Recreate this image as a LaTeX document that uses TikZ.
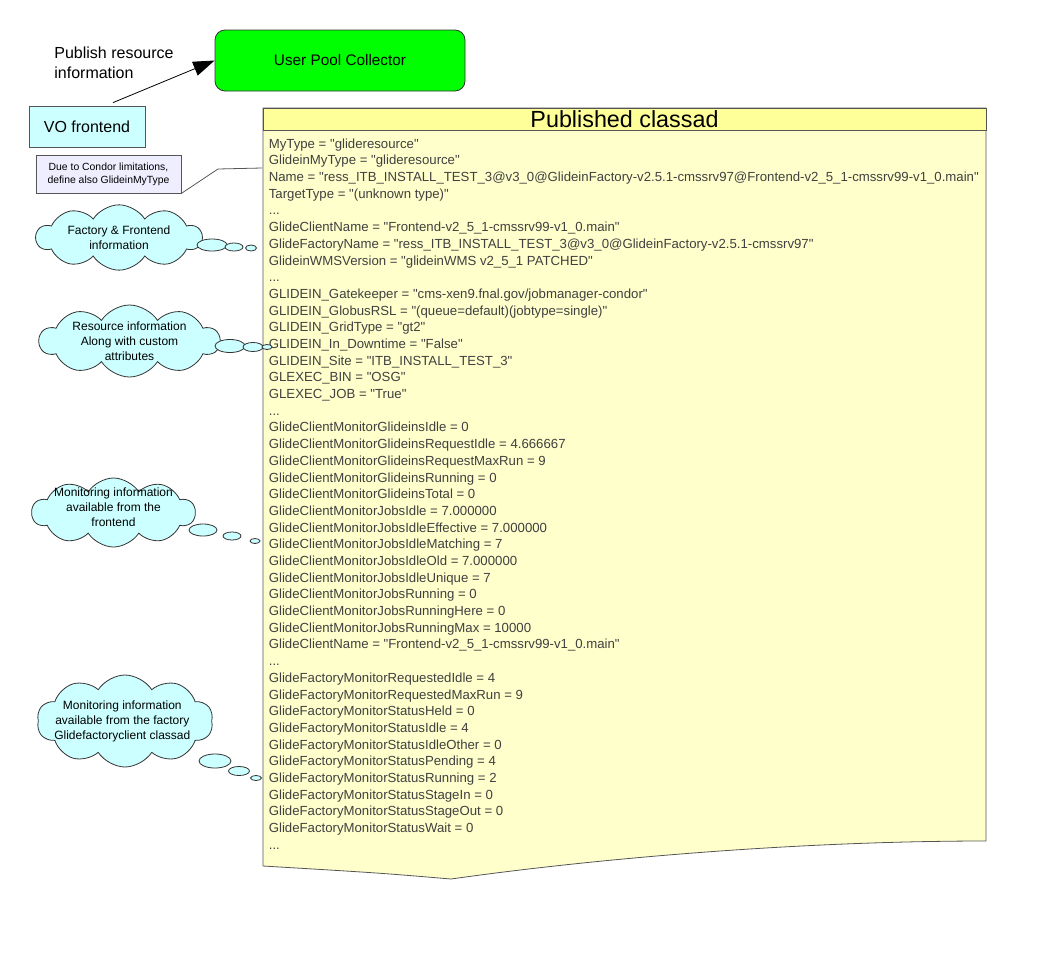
\documentclass[tikz,border=0pt]{standalone}
\usepackage{fontspec}
\setmainfont{Liberation Sans}[Ligatures=TeXOff]
\usetikzlibrary{shapes.symbols}
\usetikzlibrary{arrows.meta}
\definecolor{paleyellow}{HTML}{FFFFCC}
\definecolor{headyellow}{HTML}{FFFF99}
\definecolor{palecyan}{HTML}{CCFFFF}
\definecolor{palelilac}{HTML}{EEEEFF}
\definecolor{linegray}{HTML}{555555}
\definecolor{textgray}{HTML}{404040}
\newcommand{\skipped}{...}
\tikzset{
    thought/.style={cloud, cloud puffs=10, cloud puff arc=115, draw=black!80, fill=palecyan, inner sep=0pt},
    thought text/.style={align=center, inner sep=0pt, font=\fontsize{9}{11.25}\selectfont},
    bubble/.style={draw=black!80, fill=palecyan},
    box/.style={draw=linegray, fill=palecyan, font=\fontsize{12}{14}\selectfont},
    attr/.style={anchor=west, text=textgray, font=\fontsize{9.9}{12}\selectfont, text height=1.6ex, text depth=.4ex},
}

\begin{document}
\begin{tikzpicture}[x=0.75pt,y=-0.75pt,line width=0.6pt]
\useasboundingbox (0,0) rectangle (1056,960);
% collector and frontend
\node[draw=black!80, fill=green, rounded corners=7.5pt, minimum width=187.5pt, minimum height=45.75pt, font=\fontsize{11.5}{14}\selectfont] (upc) at (340,60.5) {User Pool Collector};
\node[box, minimum width=87pt, minimum height=30.75pt] (vo) at (87,126.5) {VO frontend};
\node[anchor=west, align=left, inner sep=0pt, font=\fontsize{12}{15}\selectfont] (pub) at (54,63) {Publish resource\\information};
\draw[-{Triangle[length=16pt,width=11pt]}] ([xshift=19.5pt,yshift=2.25pt]vo.north) -- (upc.west);
% note
\node[draw=linegray, fill=palelilac, minimum width=108.75pt, minimum height=28.5pt, align=center, font=\fontsize{7.8}{10}\selectfont] (note) at (108.5,174) {Due to Condor limitations,\\define also GlideinMyType};
\coordinate (notebend) at (218,169);
\coordinate (noteend) at (262,168);
% classad
\filldraw[fill=paleyellow, draw=linegray] (263,108) -- (986,108) -- (986,841) .. controls (800,841) and (600,858) .. (451,879) .. controls (380,873) .. (263,866) -- cycle;
\filldraw[fill=headyellow, draw=linegray] (263,108) rectangle (986,130);
\node[font=\fontsize{17.5}{20}\selectfont, inner sep=0pt] (title) at (624.5,119) {Published classad};
\draw[linegray] (note.south east) -- (notebend) -- (noteend);
\foreach \txt [count=\i] in {
    {MyType = "glideresource"},
    {GlideinMyType = "glideresource"},
    {Name = "ress\_ITB\_INSTALL\_TEST\_3@v3\_0@GlideinFactory-v2.5.1-cmssrv97@Frontend-v2\_5\_1-cmssrv99-v1\_0.main"},
    {TargetType = "(unknown type)"},
    {\skipped},
    {GlideClientName = "Frontend-v2\_5\_1-cmssrv99-v1\_0.main"},
    {GlideFactoryName = "ress\_ITB\_INSTALL\_TEST\_3@v3\_0@GlideinFactory-v2.5.1-cmssrv97"},
    {GlideinWMSVersion = "glideinWMS v2\_5\_1 PATCHED"},
    {\skipped},
    {GLIDEIN\_Gatekeeper = "cms-xen9.fnal.gov/jobmanager-condor"},
    {GLIDEIN\_GlobusRSL = "(queue=default)(jobtype=single)"},
    {GLIDEIN\_GridType = "gt2"},
    {GLIDEIN\_In\_Downtime = "False"},
    {GLIDEIN\_Site = "ITB\_INSTALL\_TEST\_3"},
    {GLEXEC\_BIN = "OSG"},
    {GLEXEC\_JOB = "True"},
    {\skipped},
    {GlideClientMonitorGlideinsIdle = 0},
    {GlideClientMonitorGlideinsRequestIdle = 4.666667},
    {GlideClientMonitorGlideinsRequestMaxRun = 9},
    {GlideClientMonitorGlideinsRunning = 0},
    {GlideClientMonitorGlideinsTotal = 0},
    {GlideClientMonitorJobsIdle = 7.000000},
    {GlideClientMonitorJobsIdleEffective = 7.000000},
    {GlideClientMonitorJobsIdleMatching = 7},
    {GlideClientMonitorJobsIdleOld = 7.000000},
    {GlideClientMonitorJobsIdleUnique = 7},
    {GlideClientMonitorJobsRunning = 0},
    {GlideClientMonitorJobsRunningHere = 0},
    {GlideClientMonitorJobsRunningMax = 10000},
    {GlideClientName = "Frontend-v2\_5\_1-cmssrv99-v1\_0.main"},
    {\skipped},
    {GlideFactoryMonitorRequestedIdle = 4},
    {GlideFactoryMonitorRequestedMaxRun = 9},
    {GlideFactoryMonitorStatusHeld = 0},
    {GlideFactoryMonitorStatusIdle = 4},
    {GlideFactoryMonitorStatusIdleOther = 0},
    {GlideFactoryMonitorStatusPending = 4},
    {GlideFactoryMonitorStatusRunning = 2},
    {GlideFactoryMonitorStatusStageIn = 0},
    {GlideFactoryMonitorStatusStageOut = 0},
    {GlideFactoryMonitorStatusWait = 0},
    {\skipped}}
    \node[attr] (line\i) at (264,{144+16.69*(\i-1)}) {\txt};
% thought clouds
\node[thought, minimum width=124pt, minimum height=49pt] (factcloud) at (119,237.5) {};
\node[thought text] (facttext) at (factcloud) {Factory \& Frontend\\information};
\node[thought, minimum width=135pt, minimum height=54pt] (rescloud) at (129.5,341) {};
\node[thought text] (restext) at (rescloud) {Resource information\\Along with custom\\attributes};
\node[thought, minimum width=122.25pt, minimum height=51.75pt] (fecloud) at (113.5,512.5) {};
\node[thought text] (fetext) at ([yshift=4pt]fecloud) {Monitoring information\\available from the\\frontend};
\node[thought, minimum width=132pt, minimum height=69pt] (faccloud) at (125,721) {};
\node[thought text] (factext) at ([xshift=-2pt]faccloud) {Monitoring information\\available from the factory\\Glidefactoryclient classad};
\foreach \bx/\by/\brx/\bry in {212/245/15/6, 234/247/9/4, 251/248/5.5/3,
    230/346/15/6.5, 253/347/10/4.5, 267/347/5/2.5,
    203/530/14/6, 232/536/9/4, 255/541/5/2.5,
    215/761/16/7, 239/771/10.5/4.5, 256/778/5.5/2.5}
    \draw[bubble] (\bx,\by) ellipse [x radius=\brx, y radius=\bry];
\end{tikzpicture}
\end{document}
